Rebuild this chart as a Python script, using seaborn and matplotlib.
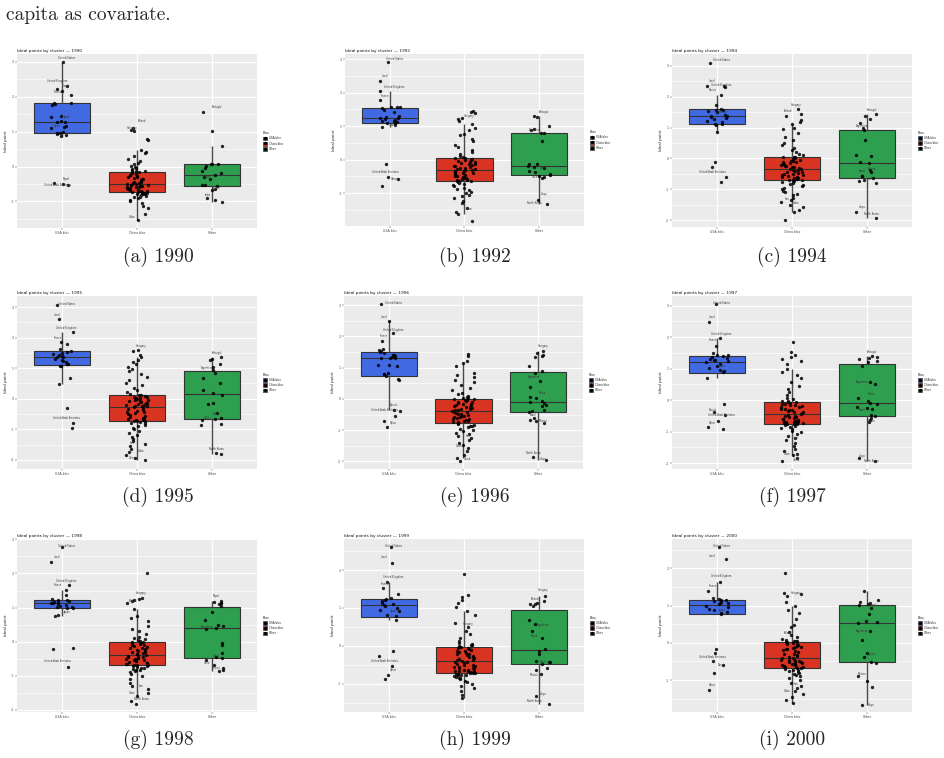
import numpy as np
import pandas as pd
import matplotlib
matplotlib.use("Agg")
import matplotlib.pyplot as plt
import seaborn as sns
from matplotlib.patches import Patch
from matplotlib.lines import Line2D

np.random.seed(3)

# ---------------- data ----------------
blocs = ["USA bloc", "China bloc", "Other"]
bloc_colors = ["#4169E1", "#D93422", "#2E9E4F"]
years = [1990, 1992, 1994, 1995, 1996, 1997, 1998, 1999, 2000]
captions = ["(a) 1990", "(b) 1992", "(c) 1994", "(d) 1995", "(e) 1996",
            "(f) 1997", "(g) 1998", "(h) 1999", "(i) 2000"]

usa_1990 = [3.0, 2.3, 2.22, 2.15, 2.05, 1.82, 1.81, 1.80, 1.76, 1.45, 1.43, 1.30, 1.28, 1.27,
            1.16, 1.12, 1.10, 0.98, 0.97, 0.95, 0.94, 0.90, 0.86, -0.46, -0.50, -0.54]
china_1990 = [1.11, 1.05, 1.02, 0.79, 0.76, 0.46, 0.42, 0.38, 0.30, 0.22, 0.15, 0.10, 0.06, 0.02,
              -0.02, -0.05, -0.08, -0.10, -0.12, -0.14,
              -0.15, -0.17, -0.19, -0.21, -0.23, -0.25, -0.27, -0.29, -0.31, -0.33, -0.35, -0.37,
              -0.39, -0.41, -0.43, -0.44, -0.46, -0.47, -0.48, -0.49,
              -0.51, -0.52, -0.53, -0.54, -0.55, -0.56, -0.57, -0.58, -0.59, -0.60, -0.61, -0.62,
              -0.63, -0.64, -0.65, -0.66, -0.68, -0.69, -0.71, -0.72,
              -0.73, -0.74, -0.75, -0.76, -0.77, -0.78, -0.79, -0.80, -0.82, -0.84, -0.86, -0.88,
              -0.90, -0.95, -1.00, -1.05, -1.12, -1.20, -1.35, -1.52]
other_1990 = [1.57, 1.02, 0.59, 0.08, 0.07, 0.06, 0.02, -0.05, -0.12, -0.19, -0.24, -0.31, -0.37,
              -0.52, -0.54, -0.57, -0.64, -0.68, -0.90, -0.95, -1.03]

usa_1992 = [2.9, 2.34, 2.05, 1.77, 1.58, 1.57, 1.56, 1.54, 1.47, 1.42, 1.30, 1.27, 1.25, 1.24,
            1.22, 1.19, 1.16, 1.14, 1.12, 1.10, 1.09, 1.02, 0.97, -0.13, -0.51, -0.58, -0.80]
china_1992 = [1.44, 1.42, 1.40, 1.23, 1.20, 1.14, 1.05, 0.95, 0.88, 0.75, 0.74, 0.62, 0.55, 0.45,
              0.38, 0.30, 0.22, 0.16, 0.11, 0.07,
              0.06, 0.04, 0.02, 0.0, -0.02, -0.04, -0.06, -0.08, -0.10, -0.12, -0.14, -0.16,
              -0.18, -0.20, -0.22, -0.24, -0.26, -0.27, -0.28, -0.30,
              -0.32, -0.33, -0.35, -0.37, -0.39, -0.40, -0.42, -0.44, -0.46, -0.48, -0.50, -0.52,
              -0.54, -0.56, -0.58, -0.59, -0.60, -0.62, -0.63, -0.64,
              -0.65, -0.67, -0.70, -0.73, -0.76, -0.80, -0.84, -0.88, -0.92, -0.96, -1.00, -1.05,
              -1.10, -1.15, -1.22, -1.30, -1.45, -1.55, -1.63, -1.83]
other_1992 = [1.29, 1.28, 0.99, 0.92, 0.87, 0.79, 0.78, 0.57, -0.12, -0.13, -0.18, -0.22, -0.25,
              -0.33, -0.38, -0.43, -0.46, -0.48, -0.53, -0.56, -1.21, -1.33]

usa_1994 = [3.1, 2.36, 2.34, 2.32, 2.05, 1.73, 1.60, 1.58, 1.56, 1.53, 1.50, 1.42, 1.38, 1.36,
            1.33, 1.30, 1.28, 1.22, 1.17, 1.12, 1.11, 1.08, 0.84, -0.13, -0.28, -0.61, -0.77]
china_1994 = [1.59, 1.45, 1.38, 1.23, 1.18, 1.10, 1.00, 0.95, 0.82, 0.70, 0.60, 0.50, 0.42, 0.33,
              0.26, 0.20, 0.14, 0.10, 0.06, 0.04,
              0.03, 0.01, -0.01, -0.03, -0.05, -0.07, -0.09, -0.11, -0.13, -0.15, -0.17, -0.19,
              -0.21, -0.23, -0.25, -0.27, -0.29, -0.30, -0.32, -0.33,
              -0.35, -0.37, -0.39, -0.41, -0.43, -0.45, -0.47, -0.49, -0.51, -0.53, -0.55, -0.57,
              -0.59, -0.61, -0.63, -0.65, -0.67, -0.69, -0.70, -0.71,
              -0.72, -0.75, -0.78, -0.82, -0.86, -0.90, -0.95, -1.00, -1.05, -1.10, -1.15, -1.20,
              -1.28, -1.35, -1.42, -1.50, -1.58, -1.66, -1.75, -1.98]
other_1994 = [1.44, 1.38, 1.27, 1.14, 0.98, 0.93, 0.58, 0.12, 0.07, -0.10, -0.15, -0.37, -0.43,
              -0.56, -0.58, -0.63, -0.69, -0.74, -0.80, -1.74, -1.92]

usa_1995 = [3.08, 2.62, 2.18, 1.86, 1.80, 1.64, 1.56, 1.54, 1.50, 1.46, 1.43, 1.40, 1.37, 1.35,
            1.30, 1.27, 1.24, 1.20, 1.15, 1.12, 1.08, 1.06, 0.68, 0.48, -0.29, -0.78, -0.95]
china_1995 = [1.59, 1.55, 1.42, 1.35, 1.28, 1.20, 1.12, 1.05, 0.98, 0.90, 0.82, 0.72, 0.62, 0.52,
              0.44, 0.36, 0.28, 0.22, 0.16, 0.12,
              0.11, 0.09, 0.07, 0.05, 0.03, 0.01, -0.01, -0.03, -0.05, -0.07, -0.09, -0.11,
              -0.13, -0.15, -0.17, -0.19, -0.21, -0.23, -0.24, -0.25,
              -0.27, -0.30, -0.33, -0.36, -0.39, -0.42, -0.45, -0.48, -0.51, -0.54, -0.57, -0.60,
              -0.63, -0.66, -0.68, -0.70, -0.71, -0.72, -0.73, -0.74,
              -0.75, -0.78, -0.81, -0.85, -0.90, -0.95, -1.00, -1.06, -1.12, -1.18, -1.25, -1.32,
              -1.40, -1.48, -1.56, -1.65, -1.75, -1.85, -1.93, -2.00]
other_1995 = [1.37, 1.30, 1.25, 1.14, 1.03, 0.95, 0.84, 0.68, 0.51, 0.30, 0.20, 0.12, -0.14,
              -0.16, -0.46, -0.62, -0.66, -0.71, -0.82, -0.85, -1.78, -1.80]

usa_1996 = [3.03, 2.49, 2.10, 1.85, 1.60, 1.56, 1.53, 1.50, 1.46, 1.42, 1.40, 1.38, 1.35, 1.32,
            1.30, 1.31, 1.10, 1.08, 1.04, 0.84, 0.80, 0.79, 0.72, 0.65, 0.59, -0.35, -0.40,
            -0.56, -0.72, -0.91]
china_1996 = [1.43, 1.38, 1.21, 1.15, 1.05, 0.82, 0.78, 0.70, 0.60, 0.55, 0.45, 0.35, 0.28, 0.20,
              0.15, 0.10, 0.07, 0.04, 0.02, 0.0,
              -0.01, -0.03, -0.05, -0.07, -0.09, -0.11, -0.13, -0.15, -0.17, -0.19, -0.21, -0.23,
              -0.25, -0.27, -0.29, -0.31, -0.33, -0.35, -0.37, -0.39,
              -0.41, -0.43, -0.45, -0.47, -0.49, -0.51, -0.53, -0.55, -0.57, -0.59, -0.61, -0.63,
              -0.65, -0.67, -0.69, -0.71, -0.73, -0.75, -0.77, -0.78,
              -0.79, -0.82, -0.85, -0.88, -0.91, -0.95, -0.99, -1.03, -1.08, -1.13, -1.18, -1.25,
              -1.32, -1.40, -1.48, -1.58, -1.68, -1.78, -1.89, -2.00]
other_1996 = [1.53, 1.46, 1.40, 1.38, 1.35, 1.05, 0.89, 0.82, 0.57, 0.39, 0.07, 0.02, -0.07,
              -0.11, -0.14, -0.19, -0.24, -0.35, -0.40, -0.43, -0.62, -0.67, -0.72, -0.78,
              -1.86, -1.95]

usa_1997 = [3.05, 2.49, 1.96, 1.73, 1.50, 1.45, 1.43, 1.41, 1.38, 1.34, 1.30, 1.27, 1.26, 1.24,
            1.20, 1.15, 1.08, 1.02, 0.95, 0.92, 0.90, 0.70, -0.13, -0.38, -0.47, -0.66, -0.87,
            -0.91]
china_1997 = [1.84, 1.54, 1.42, 1.38, 1.32, 1.25, 1.15, 0.98, 0.89, 0.80, 0.70, 0.58, 0.45, 0.35,
              0.25, 0.15, 0.08, 0.02, -0.02, -0.04,
              -0.05, -0.07, -0.09, -0.11, -0.13, -0.15, -0.17, -0.19, -0.21, -0.23, -0.25, -0.27,
              -0.29, -0.31, -0.33, -0.35, -0.37, -0.39, -0.41, -0.43,
              -0.47, -0.49, -0.51, -0.53, -0.55, -0.57, -0.59, -0.61, -0.63, -0.65, -0.67, -0.68,
              -0.69, -0.70, -0.71, -0.72, -0.73, -0.74, -0.75, -0.75,
              -0.76, -0.78, -0.81, -0.84, -0.88, -0.92, -0.97, -1.02, -1.08, -1.14, -1.20, -1.28,
              -1.36, -1.45, -1.55, -1.62, -1.70, -1.74, -1.85, -1.95]
other_1997 = [1.41, 1.38, 1.33, 1.31, 1.25, 1.20, 1.10, 0.59, 0.52, 0.08, -0.02, -0.10, -0.12,
              -0.21, -0.24, -0.28, -0.46, -0.52, -0.57, -0.62, -0.70, -1.84, -1.95]

usa_1998 = [2.79, 2.33, 1.66, 1.52, 1.37, 1.24, 1.22, 1.21, 1.19, 1.17, 1.15, 1.13, 1.12, 1.10,
            1.08, 1.06, 1.03, 1.01, 1.00, 0.99, 0.77, 0.74, -0.17, -0.20, -0.73]
china_1998 = [2.02, 1.29, 1.25, 1.22, 1.18, 1.12, 0.96, 0.75, 0.70, 0.62, 0.45, 0.38, 0.30, 0.22,
              0.15, 0.12, 0.08, 0.05, 0.02, 0.0,
              -0.01, -0.03, -0.05, -0.07, -0.09, -0.11, -0.13, -0.15, -0.17, -0.19, -0.21, -0.23,
              -0.25, -0.27, -0.29, -0.31, -0.33, -0.35, -0.37, -0.39,
              -0.41, -0.43, -0.44, -0.46, -0.47, -0.49, -0.50, -0.52, -0.53, -0.55, -0.56, -0.58,
              -0.59, -0.61, -0.62, -0.64, -0.65, -0.67, -0.68, -0.69,
              -0.70, -0.72, -0.74, -0.76, -0.78, -0.80, -0.82, -0.84, -0.87, -0.90, -0.95, -1.00,
              -1.10, -1.20, -1.30, -1.40, -1.50, -1.60, -1.75, -1.82]
other_1998 = [1.20, 1.16, 1.14, 1.12, 1.10, 1.05, 0.88, 0.64, 0.49, 0.45, 0.41, 0.37, -0.04,
              -0.11, -0.34, -0.44, -0.49, -0.54, -0.68, -0.78, -0.84, -0.87]

usa_1999 = [2.61, 2.18, 1.68, 1.52, 1.36, 1.27, 1.23, 1.20, 1.17, 1.12, 1.10, 1.08, 1.05, 1.00,
            0.94, 0.91, 0.82, 0.79, 0.68, -0.13, -0.26, -0.54, -0.76, -0.89]
china_1999 = [1.89, 1.34, 1.30, 1.22, 1.12, 1.02, 0.92, 0.80, 0.60, 0.50, 0.40, 0.30, 0.20, 0.12,
              0.08, 0.05, 0.03, 0.01, -0.01, -0.02,
              -0.03, -0.05, -0.07, -0.09, -0.11, -0.13, -0.15, -0.17, -0.19, -0.21, -0.23, -0.25,
              -0.27, -0.29, -0.31, -0.33, -0.35, -0.37, -0.38, -0.40,
              -0.42, -0.44, -0.46, -0.48, -0.50, -0.52, -0.54, -0.55, -0.57, -0.58, -0.60, -0.61,
              -0.63, -0.64, -0.66, -0.67, -0.68, -0.69, -0.70, -0.71,
              -0.72, -0.73, -0.74, -0.75, -0.76, -0.77, -0.78, -0.80, -0.82, -0.84, -0.86, -0.88,
              -0.92, -0.96, -1.00, -1.06, -1.12, -1.20, -1.30, -1.38]
other_1999 = [1.32, 1.18, 1.13, 1.11, 1.11, 1.04, 0.68, 0.58, 0.40, 0.21, -0.08, -0.14, -0.22,
              -0.40, -0.42, -0.42, -0.49, -0.58, -0.64, -0.75, -1.33, -1.55]

usa_2000 = [2.58, 2.24, 1.64, 1.40, 1.20, 1.18, 1.16, 1.14, 1.12, 1.10, 1.08, 1.06, 1.04, 1.00,
            0.96, 0.92, 0.88, 0.84, 0.81, 0.77, -0.16, -0.28, -0.50, -0.59, -0.81, -1.26]
china_2000 = [1.87, 1.35, 1.30, 1.25, 1.09, 1.00, 0.88, 0.80, 0.65, 0.48, 0.42, 0.30, 0.22, 0.15,
              0.11, 0.08, 0.06, 0.05, 0.04, 0.03,
              0.02, 0.0, -0.02, -0.04, -0.06, -0.08, -0.10, -0.12, -0.14, -0.16, -0.18, -0.20,
              -0.23, -0.26, -0.29, -0.31, -0.34, -0.36, -0.38, -0.40,
              -0.42, -0.43, -0.45, -0.46, -0.48, -0.49, -0.51, -0.52, -0.54, -0.55, -0.57, -0.58,
              -0.60, -0.61, -0.62, -0.63, -0.64, -0.65, -0.66, -0.67,
              -0.68, -0.70, -0.72, -0.74, -0.76, -0.78, -0.80, -0.83, -0.86, -0.90, -0.95, -1.00,
              -1.08, -1.15, -1.22, -1.30, -1.38, -1.45, -1.55, -1.62]
other_2000 = [1.39, 1.15, 1.09, 1.06, 1.04, 1.02, 0.94, 0.77, 0.59, 0.55, 0.53, 0.32, 0.08,
              -0.28, -0.37, -0.52, -0.55, -0.90, -1.02, -1.20, -1.66]

# country labels: (name, bloc index, ideal point)
labels_1990 = [("United States", 0, 3.0), ("United Kingdom", 0, 2.36), ("Israel", 0, 2.2),
               ("France", 0, 2.05), ("Japan", 0, 1.33), ("Spain", 0, 1.08), ("Nepal", 0, -0.45),
               ("United Arab Emirates", 0, -0.62), ("Poland", 1, 1.22), ("Hungary", 1, 1.02),
               ("Iran", 1, -0.95), ("Cuba", 1, -1.55), ("Portugal", 2, 1.6), ("Brazil", 2, -0.4),
               ("Mexico", 2, -0.72), ("India", 2, -0.9)]
labels_1992 = [("United States", 0, 2.9), ("Israel", 0, 2.4), ("United Kingdom", 0, 2.08),
               ("France", 0, 1.8), ("Spain", 0, 0.93), ("United Arab Emirates", 0, -0.47),
               ("Qatar", 0, -0.66), ("Hungary", 1, 1.2), ("Iran", 1, -0.8), ("Cuba", 1, -1.56),
               ("Portugal", 2, 1.33), ("Argentina", 2, 0.8), ("Brazil", 2, -0.35),
               ("Chile", 2, -0.62), ("Libya", 2, -1.12), ("North Korea", 2, -1.38)]
labels_1994 = [("United States", 0, 3.1), ("Israel", 0, 2.42), ("United Kingdom", 0, 2.27),
               ("Russia", 0, 2.12), ("Germany", 0, 1.4), ("United Arab Emirates", 0, -0.54),
               ("Hungary", 1, 1.62), ("Poland", 1, 1.45), ("Cuba", 1, -1.55), ("Iran", 1, -1.42),
               ("Portugal", 2, 1.47), ("Argentina", 2, 0.95), ("Poland", 2, -0.44),
               ("Brazil", 2, -0.5), ("Chile", 2, -0.76), ("Libya", 2, -1.66),
               ("North Korea", 2, -1.9)]
labels_1995 = [("United States", 0, 3.0), ("Israel", 0, 2.65), ("United Kingdom", 0, 2.2),
               ("France", 0, 1.9), ("United Arab Emirates", 0, -0.73), ("Hungary", 1, 1.62),
               ("Iran", 1, -1.55), ("Cuba", 1, -1.8), ("China", 1, -2.05), ("Portugal", 2, 1.4),
               ("Argentina", 2, 0.92), ("Brazil", 2, -0.6), ("Chile", 2, -0.72),
               ("North Korea", 2, -1.75)]
labels_1996 = [("United States", 0, 2.97), ("Israel", 0, 2.53), ("United Kingdom", 0, 2.12),
               ("France", 0, 1.9), ("Russia", 0, -0.3), ("United Arab Emirates", 0, -0.45),
               ("Qatar", 0, -0.85), ("Iran", 1, -1.3), ("Cuba", 1, -1.6), ("China", 1, -2.03),
               ("Hungary", 2, 1.6), ("Argentina", 2, 0.6), ("China", 2, 0.1),
               ("Brazil", 2, -0.6), ("Mexico", 2, -0.8), ("North Korea", 2, -1.82),
               ("Libya", 2, -2.02)]
labels_1997 = [("United States", 0, 2.98), ("Israel", 0, 2.55), ("United Kingdom", 0, 2.0),
               ("France", 0, 1.8), ("Japan", 0, 1.0), ("Russia", 0, -0.4),
               ("United Arab Emirates", 0, -0.58), ("Qatar", 0, -0.82), ("Iran", 1, -1.3),
               ("Cuba", 1, -1.8), ("China", 1, -2.0), ("Portugal", 2, 1.43),
               ("Argentina", 2, 0.47), ("China", 2, 0.1), ("Brazil", 2, -0.4),
               ("Mexico", 2, -0.75), ("Libya", 2, -1.86), ("North Korea", 2, -2.05)]
labels_1998 = [("United States", 0, 2.72), ("Israel", 0, 2.4), ("United Kingdom", 0, 1.7),
               ("France", 0, 1.57), ("Japan", 0, 0.79), ("United Arab Emirates", 0, -0.65),
               ("Hungary", 1, 1.32), ("Poland", 1, 1.1), ("Iran", 1, -1.38), ("Cuba", 1, -1.6),
               ("North Korea", 1, -1.77), ("Nepal", 2, 1.24), ("Argentina", 2, 0.34),
               ("Brazil", 2, -0.5), ("Chile", 2, -0.72), ("Mexico", 2, -0.86)]
labels_1999 = [("United States", 0, 2.55), ("Israel", 0, 2.25), ("United Kingdom", 0, 1.72),
               ("France", 0, 1.55), ("Japan", 0, 0.82), ("United Arab Emirates", 0, -0.5),
               ("Qatar", 0, -0.72), ("Hungary", 1, 0.5), ("Iran", 1, -0.42), ("Hungary", 2, 1.38),
               ("Poland", 2, 1.14), ("Argentina", 2, 0.45), ("China", 2, 0.17),
               ("Brazil", 2, -0.52), ("Mexico", 2, -0.85), ("Libya", 2, -1.36),
               ("North Korea", 2, -1.55)]
labels_2000 = [("United States", 0, 2.52), ("Israel", 0, 2.25), ("United Kingdom", 0, 1.72),
               ("France", 0, 1.45), ("Japan", 0, 0.79), ("United Arab Emirates", 0, -0.46),
               ("Russia", 0, -0.68), ("Qatar", 0, -1.22), ("Hungary", 1, 1.25),
               ("Poland", 1, 0.18), ("Iran", 1, -1.2), ("Cuba", 1, -1.38), ("Portugal", 2, 0.92),
               ("Argentina", 2, 0.24), ("Nigeria", 2, -0.4), ("Mexico", 2, -0.94),
               ("Libya", 2, -1.75)]

panel_data = {
    1990: (usa_1990, china_1990, other_1990, labels_1990),
    1992: (usa_1992, china_1992, other_1992, labels_1992),
    1994: (usa_1994, china_1994, other_1994, labels_1994),
    1995: (usa_1995, china_1995, other_1995, labels_1995),
    1996: (usa_1996, china_1996, other_1996, labels_1996),
    1997: (usa_1997, china_1997, other_1997, labels_1997),
    1998: (usa_1998, china_1998, other_1998, labels_1998),
    1999: (usa_1999, china_1999, other_1999, labels_1999),
    2000: (usa_2000, china_2000, other_2000, labels_2000),
}

# ---------------- layout ----------------
W, H = 945, 758
# plotting-panel rectangles in pixels (left, top, right, bottom)
rects = [(17, 54, 257, 228), (345, 54, 584, 226), (672, 54, 912, 227),
         (17, 296, 257, 469), (344, 296, 583, 469), (672, 296, 912, 469),
         (17, 539, 257, 712), (344, 539, 584, 712), (672, 539, 912, 712)]
ylims = [(-1.76, 3.22), (-1.98, 3.15), (-2.22, 3.38),
         (-2.30, 3.36), (-2.24, 3.29), (-2.19, 3.31),
         (-2.06, 3.01), (-1.75, 2.82), (-1.86, 2.79)]
cap_x = [158, 475, 792]
cap_y = [257, 497, 740]

sns.set_theme(style="darkgrid")
plt.rcParams["axes.unicode_minus"] = False
plt.rcParams["font.family"] = ["DejaVu Sans"]

fig = plt.figure(figsize=(W / 100, H / 100), dpi=100)
fig.patch.set_facecolor("white")

for i, year in enumerate(years):
    usa, china, other, labs = panel_data[year]
    df = pd.DataFrame({
        "bloc": [blocs[0]] * len(usa) + [blocs[1]] * len(china) + [blocs[2]] * len(other),
        "ideal": list(usa) + list(china) + list(other),
    })
    l, t, r, b = rects[i]
    ax = fig.add_axes([l / W, 1 - b / H, (r - l) / W, (b - t) / H])
    ax.set_facecolor("#EBEBEB")
    sns.boxplot(data=df, x="bloc", y="ideal", hue="bloc", order=blocs, hue_order=blocs,
                palette=bloc_colors, width=0.75, showfliers=False, linewidth=0.8,
                linecolor="#333333", saturation=1, legend=False, ax=ax,
                medianprops={"color": "#333333", "linewidth": 0.8},
                whiskerprops={"color": "#4a4a4a", "linewidth": 1.0},
                capprops={"linewidth": 0})
    sns.stripplot(data=df, x="bloc", y="ideal", order=blocs, color="black", size=2.4,
                  jitter=0.15, alpha=0.85, linewidth=0, ax=ax, zorder=4)
    # alternate label offsets so neighbouring names do not collide
    prev = {}
    for name, gi, val in labs:
        k = prev.get(gi, 0)
        dx = 0.06 if k % 2 == 0 else -0.06
        prev[gi] = k + 1
        ax.text(gi + dx, val + 0.035, name, fontsize=1.8, ha="center", va="bottom",
                color="#333333", zorder=5)
    lo, hi = ylims[i]
    ax.set_xlim(-0.6, 2.6)
    ax.set_ylim(lo, hi)
    majors = [v for v in [-2, -1, 0, 1, 2, 3] if lo <= v <= hi]
    minors = [v for v in [-2.5, -1.5, -0.5, 0.5, 1.5, 2.5, 3.5] if lo <= v <= hi]
    ax.set_yticks(majors)
    ax.set_yticklabels([str(v) for v in majors])
    ax.set_yticks(minors, minor=True)
    ax.grid(which="major", color="white", linewidth=0.9)
    ax.grid(which="minor", axis="y", color="white", linewidth=0.45)
    ax.set_axisbelow(True)
    for s in ax.spines.values():
        s.set_visible(False)
    ax.tick_params(axis="both", which="major", length=1.5, width=0.3, color="#333333",
                   labelsize=2.3, labelcolor="#4D4D4D", pad=0.8, left=True, bottom=True)
    ax.tick_params(axis="y", which="minor", length=0)
    ax.set_xlabel("")
    ax.set_ylabel("Ideal point", fontsize=2.9, labelpad=2, color="#222222")
    ax.set_title(f"Ideal points by cluster \u2014 {year}", loc="left", fontsize=3.1,
                 pad=1.6, color="#111111")
    handles = [(Patch(facecolor=c, edgecolor="#333333", linewidth=0.5),
                Line2D([0], [0], marker="o", color="black", markersize=1.4, linestyle=""))
               for c in bloc_colors]
    ax.legend(handles, blocs, title="Bloc", loc="center left", bbox_to_anchor=(1.02, 0.5),
              frameon=False, fontsize=2.0, title_fontsize=2.4, handlelength=1.6,
              handleheight=1.6, borderaxespad=0, labelspacing=0.45, handletextpad=0.6,
              alignment="left")

    fig.text(cap_x[i % 3] / W, 1 - cap_y[i // 3] / H, captions[i], ha="center", va="center",
             fontsize=14, family=["cmr10", "DejaVu Serif"])

fig.text(6 / W, 1 - 20 / H, "capita as covariate.", ha="left", va="baseline", fontsize=14,
         family=["cmr10", "DejaVu Serif"])

fig.savefig("out.png", dpi=100)
